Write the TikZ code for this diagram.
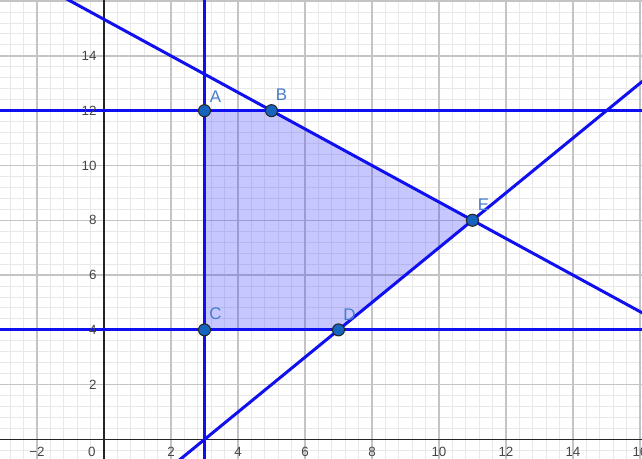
\documentclass[tikz,border=0pt]{standalone}
\usepackage{fontspec}
\setmainfont{Liberation Sans}
\usetikzlibrary{calc}
\definecolor{gminor}{RGB}{232,232,232}
\definecolor{gmajor}{RGB}{196,196,196}
\definecolor{axiscol}{RGB}{37,37,37}
\definecolor{linecol}{RGB}{15,15,240}
\definecolor{ptfill}{RGB}{21,101,192}
\definecolor{lblcol}{RGB}{70,125,200}
\definecolor{tickcol}{RGB}{70,70,70}
\tikzset{
  minorgrid/.style={draw=gminor, line width=0.28pt},
  majorgrid/.style={draw=gmajor, line width=0.4pt},
  axisline/.style={draw=axiscol, line width=0.45pt},
  bluel/.style={draw=linecol, line width=0.85pt},
  region/.style={fill=blue!80!white, fill opacity=0.27},
  pt/.style={circle, fill=ptfill, draw=black!85, line width=0.3pt, minimum size=0.12cm, inner sep=0pt},
  ptlbl/.style={text=lblcol, font=\fontsize{4.8pt}{5pt}\selectfont, inner sep=0pt},
  ticklbl/.style={text=tickcol, font=\fontsize{3.8pt}{4pt}\selectfont, inner sep=0pt}
}
\begin{document}
\begin{tikzpicture}[x=0.335cm,y=0.274cm]
\useasboundingbox (-3.104,-0.712) rectangle (16.06,16.04);
\clip (-3.104,-0.712) rectangle (16.06,16.04);
\fill[white] (-3.104,-0.712) rectangle (16.06,16.04);
% minor grid
\foreach \i in {-7,...,40} \draw[minorgrid] ({0.4*\i},-0.712) -- ({0.4*\i},16.04);
\foreach \j in {-1,...,40} \draw[minorgrid] (-3.104,{0.4*\j}) -- (16.06,{0.4*\j});
% major grid
\foreach \i in {-2,2,4,...,16} \draw[majorgrid] (\i,-0.712) -- (\i,16.04);
\foreach \j in {2,4,...,16} \draw[majorgrid] (-3.104,\j) -- (16.06,\j);
% axes
\coordinate (xl) at (-3.104,0);
\coordinate (xr) at (16.06,0);
\coordinate (yb) at (0,-0.712);
\coordinate (yt) at (0,16.04);
\draw[axisline] (xl) -- (xr);
\draw[axisline] (yb) -- (yt);
% region
\coordinate (pA) at (3,12);
\coordinate (pB) at (5,12);
\coordinate (pE) at (11,8);
\coordinate (pD) at (7,4);
\coordinate (pC) at (3,4);
\fill[region] (pA) -- (pB) -- (pE) -- (pD) -- (pC) -- cycle;
% lines
\coordinate (v1) at (3,-1);
\coordinate (v2) at (3,17);
\coordinate (h1a) at (-3.2,12);
\coordinate (h1b) at (16.2,12);
\coordinate (h2a) at (-3.2,4);
\coordinate (h2b) at (16.2,4);
\coordinate (s1a) at (-3.5,17.6667);
\coordinate (s1b) at (16.5,4.3333);
\coordinate (s2a) at (2,-1);
\coordinate (s2b) at (20,17);
\draw[bluel] (v1) -- (v2);
\draw[bluel] (h1a) -- (h1b);
\draw[bluel] (h2a) -- (h2b);
\draw[bluel] (s1a) -- (s1b);
\draw[bluel] (s2a) -- (s2b);
% tick labels
\foreach \i/\t in {-2/{\char"2212 2},2/2,4/4,6/6,8/8,10/10,12/12,14/14,16/16}
  \node[ticklbl] (tx\i) at (\i,-0.46) {\t};
\node[ticklbl] (t0) at (-0.36,-0.46) {0};
\foreach \j in {2,4,...,14}
  \node[ticklbl, anchor=east] (ty\j) at (-0.2,\j) {\j};
% points
\node[pt] (A) at (pA) {};
\node[pt] (B) at (pB) {};
\node[pt] (C) at (pC) {};
\node[pt] (D) at (pD) {};
\node[pt] (E) at (pE) {};
\node[ptlbl] (lA) at (3.33,12.52) {A};
\node[ptlbl] (lB) at (5.3,12.6) {B};
\node[ptlbl] (lC) at (3.33,4.6) {C};
\node[ptlbl] (lD) at (7.33,4.56) {D};
\node[ptlbl] (lE) at (11.33,8.58) {E};
\end{tikzpicture}
\end{document}
